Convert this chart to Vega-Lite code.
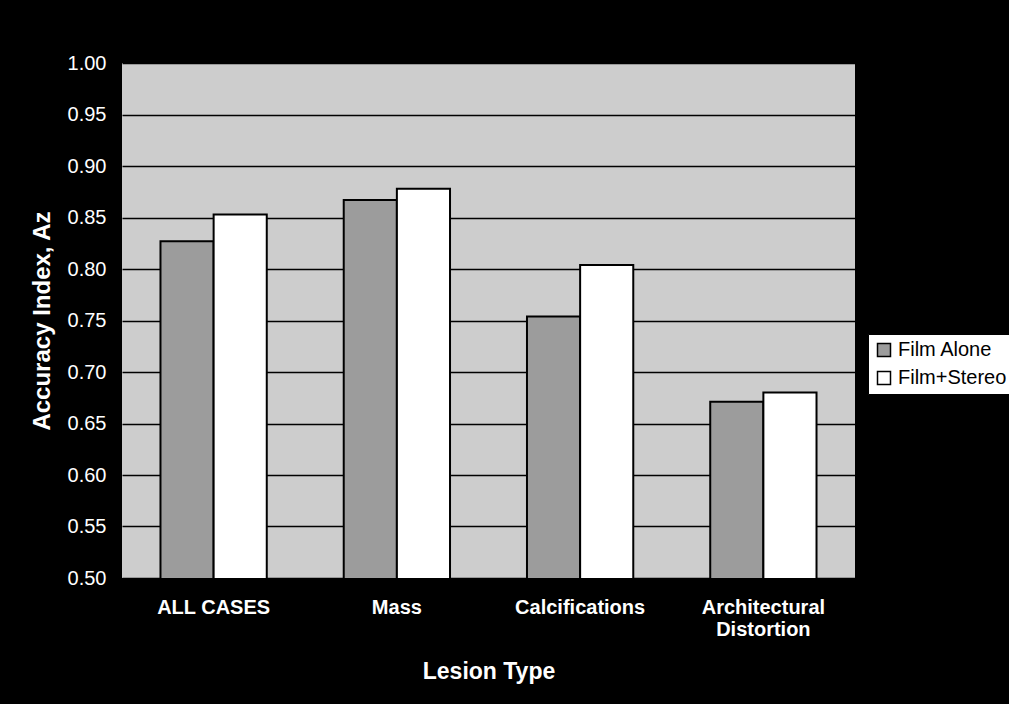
{
  "$schema": "https://vega.github.io/schema/vega-lite/v6.json",
  "autosize": "none",
  "width": 733,
  "height": 515,
  "padding": {"left": 122, "top": 63, "right": 154, "bottom": 126},
  "background": "#000000",
  "config": {
    "view": {"fill": "#cdcdcd", "stroke": null},
    "font": "Liberation Sans"
  },
  "data": {
    "values": [
      {"type": "ALL CASES", "series": "Film Alone", "az": 0.827},
      {"type": "ALL CASES", "series": "Film+Stereo", "az": 0.853},
      {"type": "Mass", "series": "Film Alone", "az": 0.867},
      {"type": "Mass", "series": "Film+Stereo", "az": 0.878},
      {"type": "Calcifications", "series": "Film Alone", "az": 0.754},
      {"type": "Calcifications", "series": "Film+Stereo", "az": 0.804},
      {"type": "Architectural Distortion", "series": "Film Alone", "az": 0.671},
      {"type": "Architectural Distortion", "series": "Film+Stereo", "az": 0.680}
    ]
  },
  "mark": {"type": "bar", "stroke": "#000000", "strokeWidth": 2, "clip": true},
  "encoding": {
    "x": {
      "field": "type",
      "type": "nominal",
      "sort": ["ALL CASES", "Mass", "Calcifications", "Architectural Distortion"],
      "scale": {"paddingInner": 0.42, "paddingOuter": 0.21},
      "axis": {
        "title": "Lesion Type",
        "titleColor": "#ffffff",
        "titleFontSize": 23,
        "titleFontWeight": "bold",
        "titlePadding": 21,
        "labelColor": "#ffffff",
        "labelFontSize": 20,
        "labelFontWeight": "bold",
        "labelAngle": 0,
        "labelPadding": 19,
        "labelExpr": "datum.value == 'Architectural Distortion' ? ['Architectural', 'Distortion'] : datum.value",
        "labelLineHeight": 22,
        "ticks": false,
        "domain": false
      }
    },
    "xOffset": {"field": "series", "type": "nominal", "sort": ["Film Alone", "Film+Stereo"]},
    "y": {
      "field": "az",
      "type": "quantitative",
      "scale": {"domain": [0.5, 1.0], "zero": false},
      "axis": {
        "title": "Accuracy Index, Az",
        "titleColor": "#ffffff",
        "titleFontSize": 24,
        "titleFontWeight": "bold",
        "titlePadding": 13,
        "labelColor": "#ffffff",
        "labelFontSize": 20,
        "labelPadding": 16,
        "values": [0.5, 0.55, 0.6, 0.65, 0.7, 0.75, 0.8, 0.85, 0.9, 0.95, 1.0],
        "format": ".2f",
        "ticks": false,
        "domain": false,
        "grid": true,
        "gridColor": "#000000",
        "gridOpacity": 1,
        "gridWidth": 1.5
      }
    },
    "fill": {
      "field": "series",
      "type": "nominal",
      "scale": {"domain": ["Film Alone", "Film+Stereo"], "range": ["#9c9c9c", "#ffffff"]},
      "legend": {
        "title": null,
        "orient": "none",
        "legendX": 746,
        "legendY": 271,
        "symbolType": "square",
        "symbolSize": 169,
        "symbolStrokeColor": "#000000",
        "symbolStrokeWidth": 1.5,
        "labelColor": "#000000",
        "labelFontSize": 20,
        "labelOffset": 4,
        "rowPadding": 8,
        "fillColor": "#ffffff",
        "strokeColor": "#000000",
        "padding": 6
      }
    }
  }
}
